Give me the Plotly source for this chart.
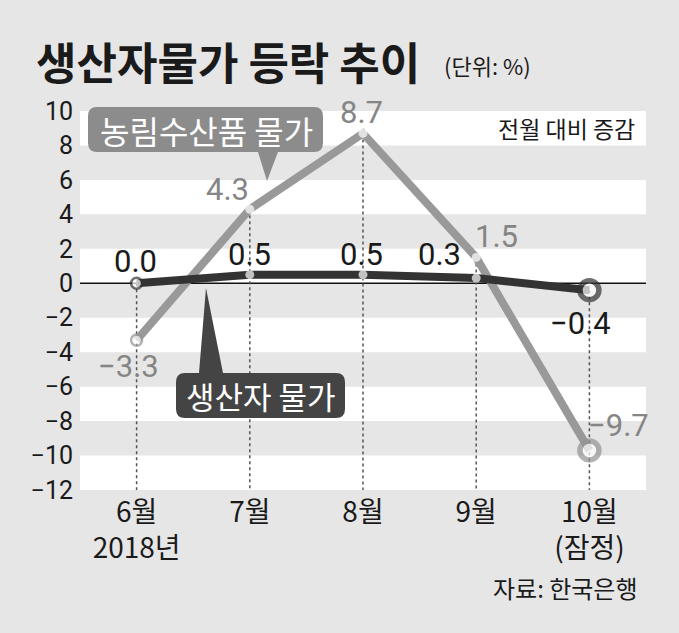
import plotly.graph_objects as go

# ---- data ----
months = ["6월", "7월", "8월", "9월", "10월"]
month_sub = ["2018년", "", "", "", "(잠정)"]
agri = [-3.3, 4.3, 8.7, 1.5, -9.7]          # 농림수산품 물가
ppi = [0.0, 0.5, 0.5, 0.3, -0.4]            # 생산자 물가
y_ticks = [10, 8, 6, 4, 2, 0, -2, -4, -6, -8, -10, -12]

# ---- style ----
W, H = 679, 633
L, R, T, B = 80, 646, 111, 490
BG = "#e6e6e6"
GRAY = "#999999"
GRAY_TXT = "#858585"
DARK = "#333333"
NUM_FONT = "Liberation Sans Narrow, Arial Narrow, Roboto, sans-serif"
KR_FONT = "Noto Sans CJK KR, sans-serif"
MIX_FONT = "Liberation Sans Narrow, Noto Sans CJK KR, sans-serif"


def px(x):
    return (x - L) / (R - L)


def py(y):
    return (B - y) / (B - T)


xs = list(range(len(months)))
fig = go.Figure()

shapes = []
# alternating white bands
lo, hi = min(y_ticks), max(y_ticks)
for k, yb in enumerate(range(lo, hi, 2)):
    if k % 2 == 0:
        shapes.append(dict(type="rect", xref="paper", yref="y", x0=0, x1=1, y0=yb, y1=yb + 2,
                           fillcolor="white", line_width=0, layer="below"))
# zero line
shapes.append(dict(type="line", xref="paper", yref="y", x0=0, x1=1, y0=0, y1=0,
                   line=dict(color="#111111", width=1.5), layer="below"))
# dotted drop lines
for i in xs:
    top = max(agri[i], ppi[i])
    shapes.append(dict(type="line", xref="x", yref="y", x0=i, x1=i, y0=top, y1=lo,
                       line=dict(color="#555555", width=1.5, dash="dot"), layer="below"))


def rounded_box(x0, y0, x1, y1, r, tri=None):
    def P(x, y):
        return f"{px(x):.5f},{py(y):.5f}"
    d = f"M {P(x0 + r, y0)}"
    if tri and tri[0] == "top":
        _, bx0, bx1, tx, ty = tri
        d += f" L {P(bx0, y0)} L {P(tx, ty)} L {P(bx1, y0)}"
    d += f" L {P(x1 - r, y0)} Q {P(x1, y0)} {P(x1, y0 + r)}"
    d += f" L {P(x1, y1 - r)} Q {P(x1, y1)} {P(x1 - r, y1)}"
    if tri and tri[0] == "bottom":
        _, bx0, bx1, tx, ty = tri
        d += f" L {P(bx1, y1)} L {P(tx, ty)} L {P(bx0, y1)}"
    d += f" L {P(x0 + r, y1)} Q {P(x0, y1)} {P(x0, y1 - r)}"
    d += f" L {P(x0, y0 + r)} Q {P(x0, y0)} {P(x0 + r, y0)} Z"
    return d


shapes.append(dict(type="path", xref="paper", yref="paper",
                   path=rounded_box(88, 107, 323, 152, 9, ("bottom", 258, 278, 267, 181)),
                   fillcolor="#8c8c8c", line_width=0, layer="above"))
shapes.append(dict(type="path", xref="paper", yref="paper",
                   path=rounded_box(176, 373, 345, 418, 9, ("top", 199, 223, 206, 288)),
                   fillcolor="#444444", line_width=0, layer="above"))

# traces
fig.add_trace(go.Scatter(
    x=xs, y=agri, mode="lines+markers", cliponaxis=False,
    line=dict(color=GRAY, width=8),
    marker=dict(color="white", size=[11, 9, 9, 9, 19],
                line=dict(color="#939393", width=[2.5, 0, 0, 0, 5.5])),
    hoverinfo="skip", showlegend=False))
fig.add_trace(go.Scatter(
    x=xs, y=ppi, mode="lines+markers", cliponaxis=False,
    line=dict(color=DARK, width=8),
    marker=dict(color="white", size=[11, 9, 9, 9, 19],
                line=dict(color=DARK, width=[2.5, 0, 0, 0, 5.5])),
    hoverinfo="skip", showlegend=False))


def fmt(v):
    s = f"{abs(v):.1f}"
    return ("\u2212" + s) if v < 0 else s


annotations = []
agri_shift = [(-8, -26), (-22, 20), (-2, 21), (20, 21), (29, 25)]
ppi_shift = [(-1, 22), (0, 20), (-2, 20), (-37, 24), (-9, -33)]
for i in xs:
    annotations.append(dict(x=i, y=agri[i], xref="x", yref="y", text=fmt(agri[i]),
                            showarrow=False, xshift=agri_shift[i][0], yshift=agri_shift[i][1],
                            font=dict(family=NUM_FONT, size=31, color=GRAY_TXT)))
    annotations.append(dict(x=i, y=ppi[i], xref="x", yref="y", text=fmt(ppi[i]),
                            showarrow=False, xshift=ppi_shift[i][0], yshift=ppi_shift[i][1],
                            font=dict(family=NUM_FONT, size=31, color="#1a1a1a")))

# title
annotations.append(dict(x=px(34), y=py(61), xref="paper", yref="paper", xanchor="left", yanchor="middle",
                        text="<b>생산자물가 등락 추이</b>", showarrow=False,
                        font=dict(family=KR_FONT, size=44, color="#1a1a1a")))
annotations.append(dict(x=px(442), y=py(65), xref="paper", yref="paper", xanchor="left", yanchor="middle",
                        text="(단위: %)", showarrow=False,
                        font=dict(family=MIX_FONT, size=22, color="#1a1a1a")))
annotations.append(dict(x=px(637), y=py(128), xref="paper", yref="paper", xanchor="right", yanchor="middle",
                        text="전월 대비 증감", showarrow=False,
                        font=dict(family=KR_FONT, size=23, color="#1a1a1a")))
annotations.append(dict(x=px(206), y=py(130), xref="paper", yref="paper", xanchor="center", yanchor="middle",
                        text="농림수산품 물가", showarrow=False,
                        font=dict(family=KR_FONT, size=32, color="white")))
annotations.append(dict(x=px(261), y=py(395), xref="paper", yref="paper", xanchor="center", yanchor="middle",
                        text="생산자 물가", showarrow=False,
                        font=dict(family=KR_FONT, size=31, color="white")))
annotations.append(dict(x=px(640), y=py(587), xref="paper", yref="paper", xanchor="right", yanchor="middle",
                        text="자료: 한국은행", showarrow=False,
                        font=dict(family=MIX_FONT, size=24, color="#1a1a1a")))

xticktext = [m + ("<br>" + s if s else "") for m, s in zip(months, month_sub)]

fig.update_layout(
    width=W, height=H,
    margin=dict(l=L, r=W - R, t=T, b=H - B, pad=0),
    paper_bgcolor=BG, plot_bgcolor=BG,
    shapes=shapes, annotations=annotations,
    xaxis=dict(range=[-0.5, 4.5], tickvals=xs, ticktext=xticktext, showgrid=False,
               zeroline=False, showline=False, ticks="", ticklabelstandoff=3,
               tickfont=dict(family=MIX_FONT, size=28, color="#1a1a1a"), fixedrange=True),
    yaxis=dict(range=[lo, hi], tickvals=y_ticks, ticktext=[fmt(v).replace(".0", "") for v in y_ticks],
               showgrid=False, zeroline=False, showline=False, ticks="", ticklabelstandoff=6,
               tickfont=dict(family=NUM_FONT, size=25, color="#1a1a1a"), fixedrange=True),
)

fig.write_html("out.html")
